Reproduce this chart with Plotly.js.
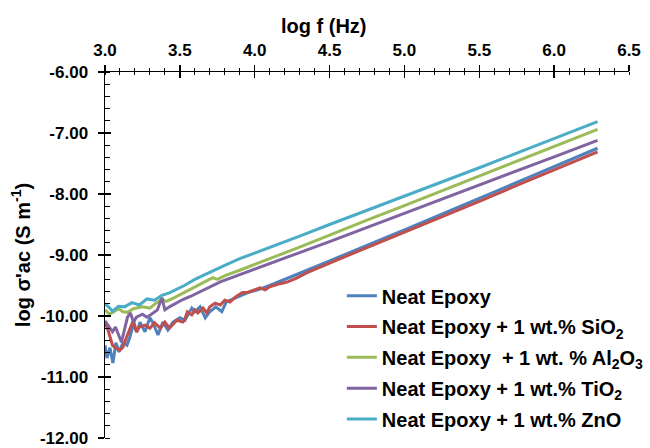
<!DOCTYPE html>
<html>
<head>
<meta charset="utf-8">
<script src="https://cdn.plot.ly/plotly-3.0.1.min.js"></script>
<style>html,body{margin:0;padding:0;background:#fff;}#chart{width:650px;height:448px;}</style>
</head>
<body>
<div id="chart"></div>
<script>
// Series names
const seriesNames = [
  'Neat Epoxy',
  'Neat Epoxy + 1 wt.% SiO<sub>2</sub>',
  'Neat Epoxy  + 1 wt. % Al<sub>2</sub>O<sub>3</sub>',
  'Neat Epoxy + 1 wt.% TiO<sub>2</sub>',
  'Neat Epoxy + 1 wt.% ZnO'
];
const xTitle = 'log f (Hz)';
const yTitle = "log σ'ac (S m<sup>-1</sup>)";

// Y tick labels (hyphen minus as in the original)
const yTickVals = [-12, -11, -10, -9, -8, -7, -6];
const yTickText = ['-12.00', '-11.00', '-10.00', '-9.00', '-8.00', '-7.00', '-6.00'];

// Neat Epoxy
const neatX = [3.00,3.013,3.033,3.053,3.073,3.093,3.12,3.147,3.167,3.187,3.214,3.234,3.267,3.30,3.32,3.354,3.387,3.42,3.454,3.50,3.534,3.58,3.60,3.635,3.67,3.70,3.74,3.78,3.81,3.87,3.95,4.035,4.10,4.35,4.60,4.85,5.00,5.25,5.50,5.75,6.00,6.29];
const neatY = [-10.48,-10.69,-10.52,-10.77,-10.44,-10.59,-10.44,-10.48,-10.34,-10.15,-10.26,-10.10,-10.26,-10.03,-10.11,-10.31,-10.10,-10.23,-10.10,-10.03,-10.07,-9.87,-9.93,-9.85,-10.03,-9.93,-9.85,-9.93,-9.77,-9.70,-9.62,-9.56,-9.50,-9.25,-8.99,-8.74,-8.59,-8.33,-8.07,-7.81,-7.54,-7.25];

// + SiO2
const sio2X = [3.00,3.02,3.05,3.07,3.10,3.12,3.15,3.17,3.19,3.21,3.23,3.27,3.30,3.33,3.37,3.40,3.43,3.48,3.52,3.53,3.55,3.58,3.60,3.62,3.655,3.68,3.70,3.735,3.77,3.80,3.835,3.87,3.915,3.955,4.00,4.035,4.07,4.10,4.17,4.22,4.28,4.35,4.60,4.85,5.00,5.25,5.50,5.75,6.00,6.29];
const sio2Y = [-10.11,-10.23,-10.48,-10.52,-10.56,-10.51,-10.31,-10.18,-10.07,-10.26,-10.18,-10.15,-10.20,-10.11,-10.20,-10.10,-10.20,-10.07,-10.10,-10.07,-9.93,-9.98,-9.90,-9.95,-9.87,-9.95,-9.85,-9.79,-9.82,-9.74,-9.77,-9.69,-9.62,-9.61,-9.57,-9.54,-9.57,-9.52,-9.47,-9.44,-9.38,-9.29,-9.03,-8.78,-8.63,-8.38,-8.12,-7.86,-7.60,-7.31];

// + Al2O3
const al2o3X = [3.00,3.03,3.06,3.09,3.12,3.15,3.19,3.25,3.30,3.34,3.38,3.41,3.47,3.51,3.56,3.62,3.68,3.72,3.75,3.81,3.90,4.00,4.10,4.30,4.50,4.75,5.00,5.25,5.50,5.75,6.00,6.29];
const al2o3Y = [-9.90,-9.97,-9.93,-9.88,-9.93,-9.94,-9.88,-9.85,-9.87,-9.79,-9.73,-9.76,-9.69,-9.64,-9.58,-9.50,-9.43,-9.37,-9.40,-9.33,-9.25,-9.15,-9.06,-8.87,-8.67,-8.43,-8.19,-7.95,-7.71,-7.46,-7.22,-6.94];

// + TiO2
const tio2X = [3.00,3.02,3.05,3.07,3.09,3.11,3.15,3.17,3.19,3.21,3.25,3.28,3.31,3.35,3.38,3.40,3.43,3.48,3.52,3.57,3.65,3.72,3.77,3.86,3.95,4.03,4.10,4.30,4.50,4.75,5.00,5.25,5.50,5.75,6.00,6.29];
const tio2Y = [-10.08,-10.15,-10.26,-10.18,-10.31,-10.43,-10.02,-9.95,-10.10,-10.02,-9.97,-10.02,-9.97,-9.90,-9.70,-9.90,-9.85,-9.78,-9.73,-9.68,-9.58,-9.50,-9.44,-9.36,-9.28,-9.21,-9.15,-8.96,-8.78,-8.55,-8.32,-8.08,-7.85,-7.62,-7.39,-7.12];

// + ZnO
const znoX = [3.00,3.02,3.05,3.09,3.13,3.18,3.23,3.28,3.33,3.38,3.43,3.48,3.53,3.60,3.70,3.80,3.90,4.00,4.10,4.30,4.50,4.75,5.00,5.25,5.50,5.75,6.00,6.29];
const znoY = [-9.80,-9.84,-9.92,-9.84,-9.85,-9.78,-9.82,-9.72,-9.74,-9.66,-9.62,-9.56,-9.50,-9.40,-9.28,-9.17,-9.06,-8.97,-8.88,-8.69,-8.50,-8.27,-8.04,-7.81,-7.57,-7.33,-7.09,-6.815];

const colors = ['#4F81BD','#C0504D','#9BBB59','#8064A2','#4BACC6'];
const xs = [neatX, sio2X, al2o3X, tio2X, znoX];
const ys = [neatY, sio2Y, al2o3Y, tio2Y, znoY];

const FONT = 'Liberation Sans, Arial, sans-serif';

const traces = xs.map((x, i) => ({
  type: 'scatter', mode: 'lines', x: x, y: ys[i], name: seriesNames[i],
  line: {color: colors[i], width: 3}, legendgroup: 'g' + i
}));
// empty helper trace for the overlay axes (cross ticks)
traces.push({type: 'scatter', mode: 'lines', x: [], y: [], xaxis: 'x2', yaxis: 'y2', showlegend: false, hoverinfo: 'skip'});

const tickFont = {family: FONT, size: 17, color: '#000', weight: 'bold'};
const titleFont = {family: FONT, size: 20, color: '#000', weight: 'bold'};

const layout = {
  width: 650, height: 448,
  margin: {l: 105, r: 21, t: 72, b: 10, autoexpand: false},
  paper_bgcolor: '#fff', plot_bgcolor: '#fff',
  font: {family: FONT, color: '#000'},
  showlegend: true,
  legend: {
    x: 0.452, y: 0.442, xanchor: 'left', yanchor: 'top',
    font: {family: FONT, size: 20, color: '#000', weight: 'bold'},
    bgcolor: 'rgba(0,0,0,0)', tracegroupgap: 1.8
  },
  annotations: [{
    text: xTitle, xref: 'paper', yref: 'paper', x: 0.418, y: 1, xanchor: 'center', yanchor: 'middle',
    yshift: 46, showarrow: false, font: titleFont
  }],
  xaxis: {
    range: [3, 6.5], side: 'top', anchor: 'y', tick0: 3, dtick: 0.5, tickformat: '.1f',
    ticks: 'outside', ticklen: 6, tickwidth: 1.3, tickcolor: '#000',
    showline: true, linecolor: '#000', linewidth: 1.5, showgrid: false, zeroline: false,
    tickfont: tickFont, ticklabelstandoff: 2,
    minor: {dtick: 0.1, tick0: 3, ticks: 'inside', ticklen: 3, tickwidth: 1, tickcolor: '#000', showgrid: false}
  },
  yaxis: {
    range: [-12, -6], tickmode: 'array', tickvals: yTickVals, ticktext: yTickText,
    ticks: 'outside', ticklen: 6, tickwidth: 1.3, tickcolor: '#000',
    showline: true, linecolor: '#000', linewidth: 1.5, showgrid: false, zeroline: false,
    tickfont: tickFont, ticklabelstandoff: 6,
    minor: {dtick: 0.2, tick0: -12, ticks: 'inside', ticklen: 5, tickwidth: 1, tickcolor: '#000', showgrid: false},
    title: {text: yTitle, font: titleFont, standoff: 4}
  },
  xaxis2: {
    overlaying: 'x', side: 'top', anchor: 'y2', range: [3, 6.5], tick0: 3, dtick: 0.5,
    ticks: 'inside', ticklen: 6, tickwidth: 1.3, tickcolor: '#000', showticklabels: false,
    showline: false, showgrid: false, zeroline: false,
    minor: {dtick: 0.1, tick0: 3, ticks: 'outside', ticklen: 3, tickwidth: 1, tickcolor: '#000', showgrid: false}
  },
  yaxis2: {
    overlaying: 'y', side: 'left', anchor: 'x2', range: [-12, -6], tick0: -12, dtick: 1,
    ticks: 'inside', ticklen: 6, tickwidth: 1.3, tickcolor: '#000', showticklabels: false,
    showline: false, showgrid: false, zeroline: false
  }
};

Plotly.newPlot('chart', traces, layout, {displayModeBar: false, staticPlot: true});
</script>
</body>
</html>
